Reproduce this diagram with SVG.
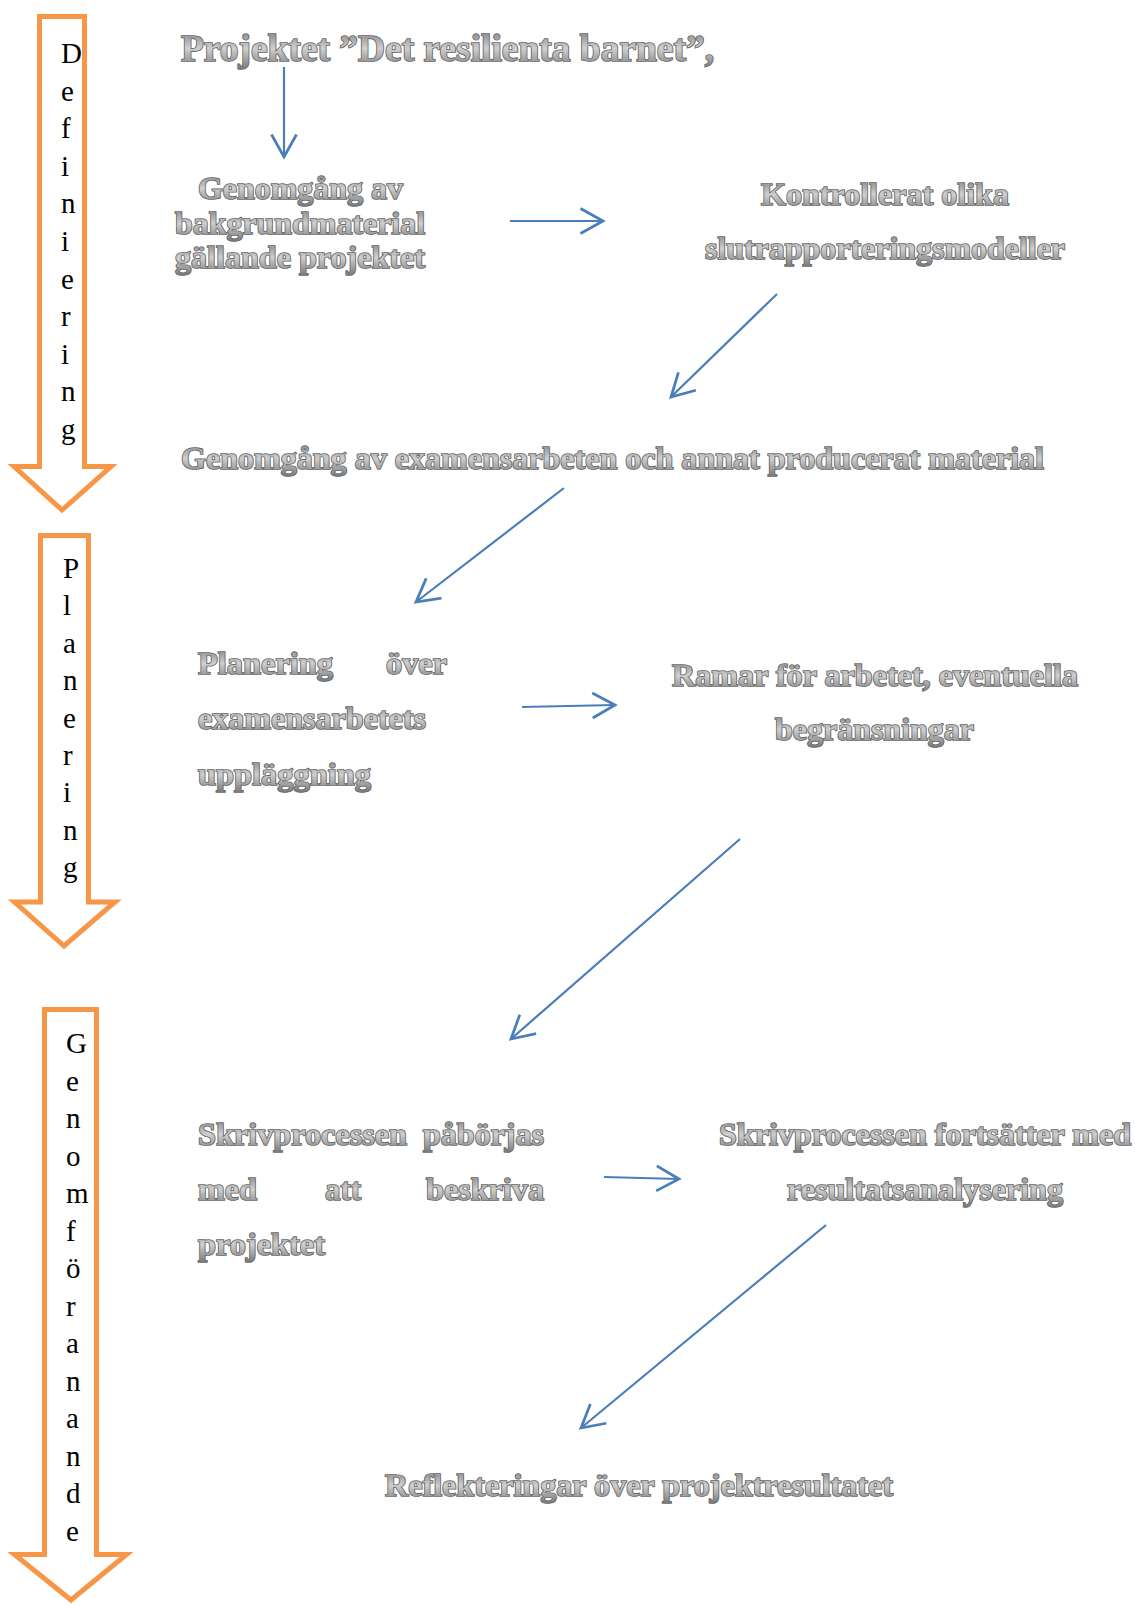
<svg xmlns="http://www.w3.org/2000/svg" width="1135" height="1606" viewBox="0 0 1135 1606">
<defs>
<style>
.phase{fill:#ffffff;stroke:#f79646;stroke-width:5;stroke-linejoin:miter}
.vl{font-family:"Liberation Serif","Times New Roman",serif;font-size:29px;fill:#000}
.t{font-family:"Liberation Serif","Times New Roman",serif;font-weight:bold;font-size:31px;fill:url(#gr);stroke:#666666;stroke-width:1.7px;paint-order:stroke}
.big{font-size:37px}
.c{fill:none;stroke:#4a7ebb;stroke-width:2.2}
</style>
<linearGradient id="gr" x1="0" y1="0" x2="0" y2="1">
<stop offset="0" stop-color="#7a7a7a"/>
<stop offset="0.5" stop-color="#cfcfcf"/>
<stop offset="1" stop-color="#7a7a7a"/>
</linearGradient>
<marker id="ah" markerUnits="userSpaceOnUse" markerWidth="30" markerHeight="30" viewBox="-20 -12 22 24" refX="0" refY="0" orient="auto">
<path d="M-18,-10 L0,0 L-18,10" fill="none" stroke="#4a7ebb" stroke-width="2.2"/>
</marker>
</defs>
<rect width="1135" height="1606" fill="#ffffff"/>

<g id="phase-definiering">
<polygon class="phase" points="39.5,16.5 84.5,16.5 84.5,466.5 111,466.5 62,510 14,466.5 39.5,466.5"/>
<text class="vl" x="61" y="63"><tspan x="61">D</tspan><tspan x="61" dy="37.6">e</tspan><tspan x="61" dy="37.6">f</tspan><tspan x="61" dy="37.6">i</tspan><tspan x="61" dy="37.6">n</tspan><tspan x="61" dy="37.6">i</tspan><tspan x="61" dy="37.6">e</tspan><tspan x="61" dy="37.6">r</tspan><tspan x="61" dy="37.6">i</tspan><tspan x="61" dy="37.6">n</tspan><tspan x="61" dy="37.6">g</tspan></text>
</g>

<g id="phase-planering">
<polygon class="phase" points="40.5,535.5 88.5,535.5 88.5,902 115,902 64,946 14.5,902 40.5,902"/>
<text class="vl" x="63" y="578"><tspan x="63">P</tspan><tspan x="63" dy="37.4">l</tspan><tspan x="63" dy="37.4">a</tspan><tspan x="63" dy="37.4">n</tspan><tspan x="63" dy="37.4">e</tspan><tspan x="63" dy="37.4">r</tspan><tspan x="63" dy="37.4">i</tspan><tspan x="63" dy="37.4">n</tspan><tspan x="63" dy="37.4">g</tspan></text>
</g>

<g id="phase-genomforande">
<polygon class="phase" points="44.5,1009.5 96.5,1009.5 96.5,1554.5 126.5,1554.5 71,1600 14.5,1554.5 44.5,1554.5"/>
<text class="vl" x="66" y="1053"><tspan x="66">G</tspan><tspan x="66" dy="37.5">e</tspan><tspan x="66" dy="37.5">n</tspan><tspan x="66" dy="37.5">o</tspan><tspan x="66" dy="37.5">m</tspan><tspan x="66" dy="37.5">f</tspan><tspan x="66" dy="37.5">ö</tspan><tspan x="66" dy="37.5">r</tspan><tspan x="66" dy="37.5">a</tspan><tspan x="66" dy="37.5">n</tspan><tspan x="66" dy="37.5">a</tspan><tspan x="66" dy="37.5">n</tspan><tspan x="66" dy="37.5">d</tspan><tspan x="66" dy="37.5">e</tspan></text>
</g>

<g id="n1">
<text class="t big" x="181" y="61" textLength="533" lengthAdjust="spacingAndGlyphs">Projektet ”Det resilienta barnet”,</text>
</g>

<g id="n2">
<text class="t" x="198" y="199" textLength="205" lengthAdjust="spacingAndGlyphs">Genomgång av</text>
<text class="t" x="175" y="234" textLength="250" lengthAdjust="spacingAndGlyphs">bakgrundmaterial</text>
<text class="t" x="175" y="268" textLength="250" lengthAdjust="spacingAndGlyphs">gällande projektet</text>
</g>

<g id="n3">
<text class="t" x="761" y="205" textLength="248" lengthAdjust="spacingAndGlyphs">Kontrollerat olika</text>
<text class="t" x="705" y="259" textLength="360" lengthAdjust="spacingAndGlyphs">slutrapporteringsmodeller</text>
</g>

<g id="n4">
<text class="t" x="181" y="469" textLength="863" lengthAdjust="spacingAndGlyphs">Genomgång av examensarbeten och annat producerat material</text>
</g>

<g id="n5">
<text class="t" x="198" y="674" textLength="135" lengthAdjust="spacingAndGlyphs">Planering</text>
<text class="t" x="386" y="674" textLength="61" lengthAdjust="spacingAndGlyphs">över</text>
<text class="t" x="198" y="729" textLength="228" lengthAdjust="spacingAndGlyphs">examensarbetets</text>
<text class="t" x="198" y="785" textLength="173" lengthAdjust="spacingAndGlyphs">uppläggning</text>
</g>

<g id="n6">
<text class="t" x="672" y="686" textLength="406" lengthAdjust="spacingAndGlyphs">Ramar för arbetet, eventuella</text>
<text class="t" x="775" y="740" textLength="199" lengthAdjust="spacingAndGlyphs">begränsningar</text>
</g>

<g id="n7">
<text class="t" x="198" y="1145" textLength="209" lengthAdjust="spacingAndGlyphs">Skrivprocessen</text>
<text class="t" x="423" y="1145" textLength="121" lengthAdjust="spacingAndGlyphs">påbörjas</text>
<text class="t" x="198" y="1200" textLength="59" lengthAdjust="spacingAndGlyphs">med</text>
<text class="t" x="325" y="1200" textLength="36" lengthAdjust="spacingAndGlyphs">att</text>
<text class="t" x="426" y="1200" textLength="118" lengthAdjust="spacingAndGlyphs">beskriva</text>
<text class="t" x="198" y="1255" textLength="127" lengthAdjust="spacingAndGlyphs">projektet</text>
</g>

<g id="n8">
<text class="t" x="719" y="1145" textLength="412" lengthAdjust="spacingAndGlyphs">Skrivprocessen fortsätter med</text>
<text class="t" x="787" y="1200" textLength="276" lengthAdjust="spacingAndGlyphs">resultatsanalysering</text>
</g>

<g id="n9">
<text class="t" x="385" y="1496" textLength="508" lengthAdjust="spacingAndGlyphs">Reflekteringar över projektresultatet</text>
</g>

<g id="connectors">
<line class="c" x1="284" y1="67" x2="284" y2="157" marker-end="url(#ah)"/>
<line class="c" x1="510" y1="221" x2="603" y2="221" marker-end="url(#ah)"/>
<line class="c" x1="777" y1="294" x2="671" y2="397" marker-end="url(#ah)"/>
<line class="c" x1="564" y1="488" x2="416" y2="602" marker-end="url(#ah)"/>
<line class="c" x1="522" y1="707" x2="615" y2="705" marker-end="url(#ah)"/>
<line class="c" x1="740" y1="839" x2="511" y2="1039" marker-end="url(#ah)"/>
<line class="c" x1="604" y1="1177" x2="679" y2="1179" marker-end="url(#ah)"/>
<line class="c" x1="826" y1="1225" x2="581" y2="1428" marker-end="url(#ah)"/>
</g>
</svg>
